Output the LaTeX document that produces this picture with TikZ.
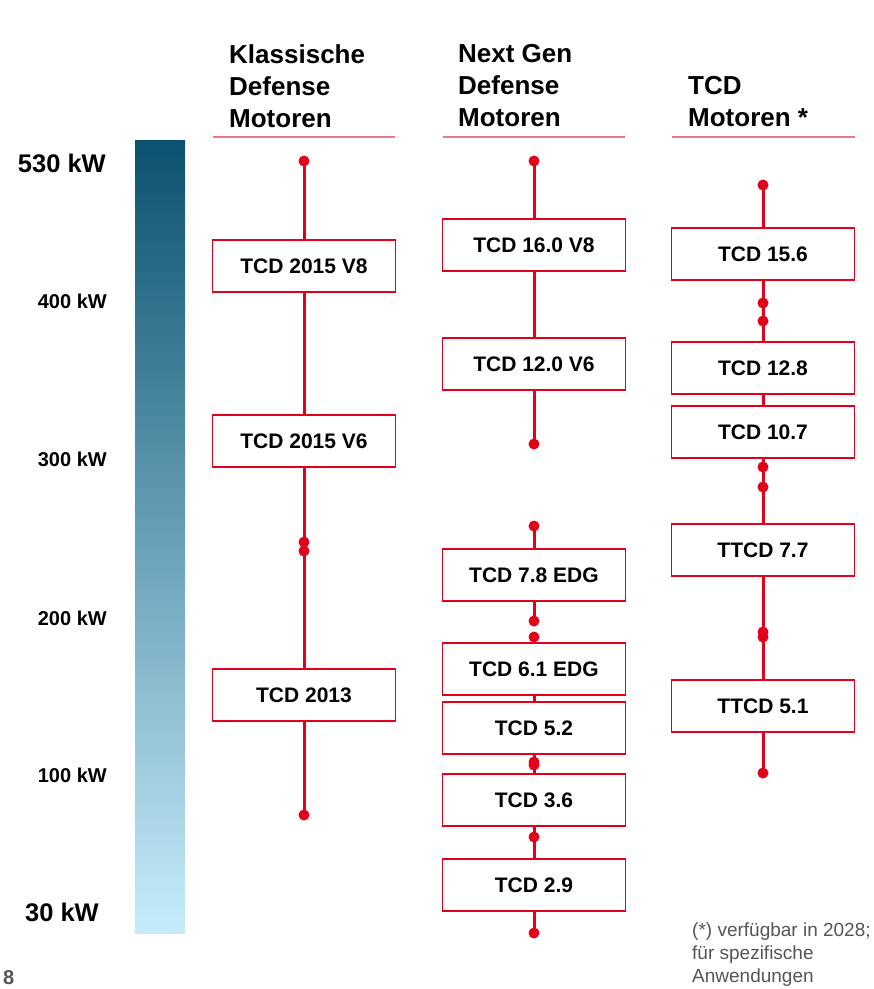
\documentclass[tikz,border=0pt]{standalone}
\usepackage{fontspec}
\setmainfont{Liberation Sans}
\definecolor{dred}{RGB}{226,0,26}
\definecolor{ulred}{RGB}{232,122,134}
\definecolor{barTop}{RGB}{10,82,112}
\definecolor{barBot}{RGB}{198,236,252}
\definecolor{notegray}{RGB}{85,85,85}
\tikzset{
  rng/.style={draw=dred, line width=3pt},
  dotm/.style={circle, fill=dred, inner sep=0pt, minimum size=11pt},
  engine/.style={draw=dred, line width=1.8pt, fill=white, minimum width=183pt, minimum height=52pt, inner sep=0pt, font=\bfseries\fontsize{21}{24}\selectfont},
  hdr/.style={anchor=north west, inner sep=0pt, align=left, font=\bfseries\fontsize{26}{32}\selectfont},
  uline/.style={draw=ulred, line width=1.3pt},
  kwbig/.style={anchor=east, inner sep=0pt, font=\bfseries\fontsize{25.5}{28}\selectfont},
  kwsmall/.style={anchor=east, inner sep=0pt, font=\bfseries\fontsize{20}{24}\selectfont}
}
\begin{document}
\begin{tikzpicture}[x=1pt,y=-1pt]
\useasboundingbox (0,0) rectangle (874,989);

% gradient bar
\shade[top color=barTop, bottom color=barBot] (135,140) rectangle (185,933);

% kW labels
\node[kwbig] (k530) at (106,163) {530 kW};
\node[kwsmall] (k400) at (107,301) {400 kW};
\node[kwsmall] (k300) at (107,459) {300 kW};
\node[kwsmall] (k200) at (107,618) {200 kW};
\node[kwsmall] (k100) at (107,775) {100 kW};
\node[kwbig] (k30) at (99,912) {30 kW};

% headers
\node[hdr] (h1) at (229,44) {Klassische\\Defense\\Motoren};
\node[hdr] (h2) at (458,44) {Next Gen\\Defense\\Motoren};
\node[hdr] (h3) at (688,76) {TCD\\Motoren *};
\draw[uline] (213,137) -- (395,137);
\draw[uline] (443,137) -- (625,137);
\draw[uline] (672,137) -- (855,137);

% coordinates
\coordinate (l1) at (304,161);
\coordinate (l2) at (304,542);
\coordinate (l3) at (304,551);
\coordinate (l4) at (304,815);

\coordinate (m1) at (534,161);
\coordinate (m2) at (534,444);
\coordinate (m3) at (534,526);
\coordinate (m4) at (534,621);
\coordinate (m5) at (534,637);
\coordinate (m6) at (534,762);
\coordinate (m7) at (534,765);
\coordinate (m8) at (534,837);
\coordinate (m9) at (534,933);

\coordinate (r1) at (763,185);
\coordinate (r2) at (763,303);
\coordinate (r3) at (763,321);
\coordinate (r4) at (763,467);
\coordinate (r5) at (763,487);
\coordinate (r6) at (763,632);
\coordinate (r7) at (763,637);
\coordinate (r8) at (763,773);

% range lines
\draw[rng] (l1) -- (l2) -- (l3) -- (l4);
\draw[rng] (m1) -- (m2);
\draw[rng] (m3) -- (m4);
\draw[rng] (m5) -- (m6) -- (m7) -- (m8) -- (m9);
\draw[rng] (r1) -- (r2) -- (r3) -- (r4) -- (r5) -- (r6) -- (r7) -- (r8);

% dots
\foreach \c in {l1,l2,l3,l4,m1,m2,m3,m4,m5,m6,m7,m8,m9,r1,r2,r3,r4,r5,r6,r7,r8}
  \node[dotm] (d\c) at (\c) {};

% engine boxes
\node[engine] (e1) at (304,266) {TCD 2015 V8};
\node[engine] (e2) at (304,441) {TCD 2015 V6};
\node[engine] (e3) at (304,695) {TCD 2013};

\node[engine] (n1) at (534,245) {TCD 16.0 V8};
\node[engine] (n2) at (534,364) {TCD 12.0 V6};
\node[engine] (n3) at (534,575) {TCD 7.8 EDG};
\node[engine] (n4) at (534,669) {TCD 6.1 EDG};
\node[engine] (n5) at (534,728) {TCD 5.2};
\node[engine] (n6) at (534,800) {TCD 3.6};
\node[engine] (n7) at (534,885) {TCD 2.9};

\node[engine] (t1) at (763,254) {TCD 15.6};
\node[engine] (t2) at (763,368) {TCD 12.8};
\node[engine] (t3) at (763,432) {TCD 10.7};
\node[engine] (t4) at (763,550) {TTCD 7.7};
\node[engine] (t5) at (763,706) {TTCD 5.1};

% footnote
\node[anchor=north west, inner sep=0pt, align=left, text=notegray, font=\fontsize{19}{23}\selectfont] (fn) at (692,923) {(*) verfügbar in 2028;\\für spezifische\\Anwendungen};

% page number
\node[anchor=north west, inner sep=0pt, text=notegray, font=\bfseries\fontsize{20}{24}\selectfont] (pg) at (3,970) {8};
\end{tikzpicture}
\end{document}
